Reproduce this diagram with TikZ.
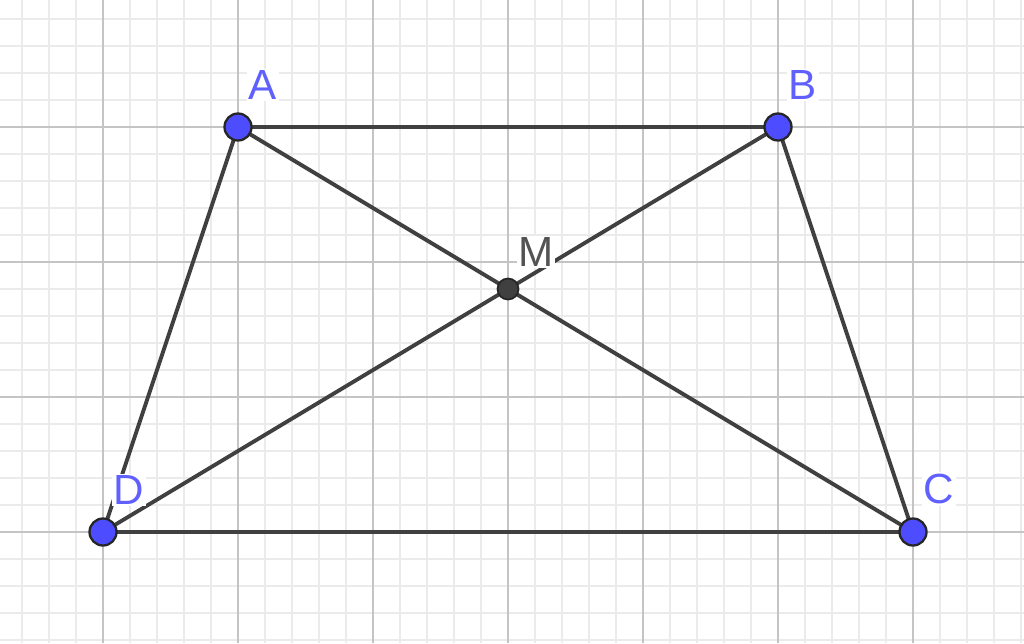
\documentclass[tikz,border=0pt]{standalone}
\usepackage{fontspec}
\setmainfont{Liberation Sans}
\definecolor{minorgrid}{HTML}{EBEBEB}
\definecolor{majorgrid}{HTML}{C4C4C4}
\definecolor{seg}{HTML}{404040}
\definecolor{ptfill}{HTML}{4D4DFF}
\definecolor{lbl}{HTML}{6060FF}
\tikzset{
  pt/.style={circle, fill=ptfill, draw=black!85, line width=1.3pt, minimum size=0.54cm, inner sep=0pt},
  mpt/.style={circle, fill=seg, draw=black!85, line width=1pt, minimum size=0.42cm, inner sep=0pt},
  segline/.style={draw=seg, line width=2.2pt},
  ptlabel/.style={text=lbl, fill=white, inner sep=1pt, font=\fontsize{24}{28}\selectfont},
  mlabel/.style={text=seg!90, fill=white, inner sep=1pt, font=\fontsize{24}{28}\selectfont}
}
\begin{document}
\begin{tikzpicture}[x=0.02cm, y=-0.02cm]
\useasboundingbox (0,0) rectangle (1024,643);
\fill[white] (0,0) rectangle (1024,643);
% minor grid
\foreach \i in {0,...,38} {
  \draw[minorgrid, line width=0.6pt] ({22+27*\i},0) -- ({22+27*\i},643);
}
\foreach \j in {0,...,24} {
  \draw[minorgrid, line width=0.6pt] (0,{19+27*\j}) -- (1024,{19+27*\j});
}
% major grid
\foreach \i in {0,...,6} {
  \draw[majorgrid, line width=1pt] ({103+135*\i},0) -- ({103+135*\i},643);
}
\foreach \j in {0,...,3} {
  \draw[majorgrid, line width=1pt] (0,{127+135*\j}) -- (1024,{127+135*\j});
}
% points
\coordinate (A) at (238,127);
\coordinate (B) at (778,127);
\coordinate (C) at (913,532);
\coordinate (D) at (103,532);
\coordinate (M) at (508,289);
% segments
\draw[segline] (A) -- (B);
\draw[segline] (B) -- (C);
\draw[segline] (C) -- (D);
\draw[segline] (D) -- (A);
\draw[segline] (A) -- (C);
\draw[segline] (B) -- (D);
% labels
\node[ptlabel] (lA) at (263,85) {A};
\node[ptlabel] (lB) at (803,85) {B};
\node[ptlabel] (lC) at (939,489) {C};
\node[ptlabel] (lD) at (129,490) {D};
\node[mlabel] (lM) at (536,252) {M};
% point markers
\node[pt] (pA) at (A) {};
\node[pt] (pB) at (B) {};
\node[pt] (pC) at (C) {};
\node[pt] (pD) at (D) {};
\node[mpt] (pM) at (M) {};
\end{tikzpicture}
\end{document}
